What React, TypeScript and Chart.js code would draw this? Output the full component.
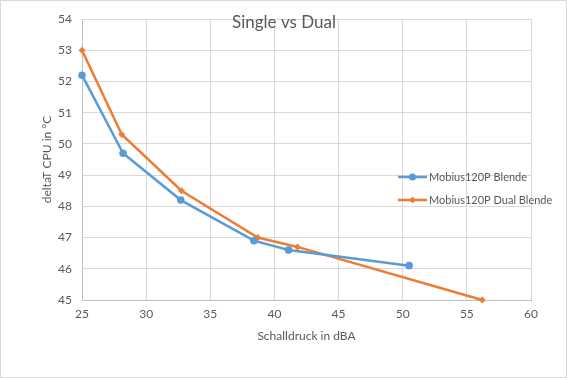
import React, { useEffect, useRef } from "react";
import { Chart, registerables } from "chart.js";

Chart.register(...registerables);

const chartTitle = "Single vs Dual";
const xAxisTitle = "Schalldruck in dBA";
const yAxisTitle = "deltaT CPU in °C";

const singleLabel = "Mobius120P Blende";
const singleX = [25, 28.2, 32.7, 38.4, 41.1, 50.5];
const singleY = [52.2, 49.7, 48.2, 46.9, 46.6, 46.1];

const dualLabel = "Mobius120P Dual Blende";
const dualX = [25, 28.1, 32.75, 38.7, 41.8, 56.2];
const dualY = [53.0, 50.3, 48.5, 47.0, 46.7, 45.0];

const xMin = 25, xMax = 60, xStep = 5;
const yMin = 45, yMax = 54, yStep = 1;

const BLUE = "#5B9BD5";
const ORANGE = "#ED7D31";
const TEXT = "#595959";
const FONT = "Lato, 'Open Sans', sans-serif";

const decorPlugin = {
  id: "decor",
  beforeDraw(chart: any) {
    const { ctx, width, height } = chart;
    ctx.save();
    ctx.fillStyle = "#ffffff";
    ctx.fillRect(0, 0, width, height);
    ctx.restore();
  },
  afterDraw(chart: any) {
    const { ctx, width, height } = chart;
    ctx.save();
    ctx.strokeStyle = "#d9d9d9";
    ctx.lineWidth = 1;
    ctx.strokeRect(0.5, 0.5, width - 1, height - 1);
    // title
    ctx.fillStyle = TEXT;
    ctx.font = `17px ${FONT}`;
    ctx.textAlign = "center";
    ctx.textBaseline = "middle";
    ctx.fillText(chartTitle, 284, 23);
    // legend
    const entries = [
      { label: chart.data.datasets[0].label, color: BLUE, style: "circle", y: 177 },
      { label: chart.data.datasets[1].label, color: ORANGE, style: "diamond", y: 200 },
    ];
    for (const e of entries) {
      ctx.strokeStyle = e.color;
      ctx.fillStyle = e.color;
      ctx.lineWidth = 2.5;
      ctx.beginPath();
      ctx.moveTo(398, e.y);
      ctx.lineTo(427, e.y);
      ctx.stroke();
      ctx.beginPath();
      if (e.style === "circle") {
        ctx.arc(412.5, e.y, 3.5, 0, Math.PI * 2);
      } else {
        ctx.moveTo(412.5, e.y - 3.5);
        ctx.lineTo(416, e.y);
        ctx.lineTo(412.5, e.y + 3.5);
        ctx.lineTo(409, e.y);
        ctx.closePath();
      }
      ctx.fill();
      ctx.fillStyle = TEXT;
      ctx.font = `11px ${FONT}`;
      ctx.textAlign = "left";
      ctx.textBaseline = "middle";
      ctx.fillText(e.label, 429, e.y);
    }
    ctx.restore();
  },
};

export default function App() {
  const ref = useRef<HTMLCanvasElement>(null);
  useEffect(() => {
    if (!ref.current) return;
    const chart = new Chart(ref.current, {
      type: "scatter",
      data: {
        datasets: [
          {
            label: singleLabel,
            data: singleX.map((x, i) => ({ x, y: singleY[i] })),
            showLine: true,
            clip: false,
            borderColor: BLUE,
            backgroundColor: BLUE,
            borderWidth: 2.5,
            pointRadius: 3.8,
            pointStyle: "circle",
            pointBorderWidth: 0,
            tension: 0,
          },
          {
            label: dualLabel,
            data: dualX.map((x, i) => ({ x, y: dualY[i] })),
            showLine: true,
            clip: false,
            borderColor: ORANGE,
            backgroundColor: ORANGE,
            borderWidth: 2.5,
            pointRadius: 3.5,
            pointStyle: "rectRot",
            pointBorderWidth: 0,
            tension: 0,
          },
        ],
      },
      options: {
        responsive: false,
        animation: false,
        layout: { padding: { left: 0, top: 19, right: 36, bottom: 0 } },
        plugins: {
          legend: { display: false },
          title: { display: false },
          tooltip: { enabled: false },
        },
        scales: {
          x: {
            type: "linear",
            min: xMin,
            max: xMax,
            ticks: {
              stepSize: xStep,
              color: TEXT,
              font: { family: FONT, size: 12 },
              padding: 7,
            },
            grid: { color: "#d9d9d9", drawTicks: false },
            border: { color: "#bfbfbf" },
            title: {
              display: true,
              text: xAxisTitle,
              color: TEXT,
              font: { family: FONT, size: 12 },
              padding: { top: 0, bottom: 35 },
            },
            afterFit(scale: any) {
              scale.height = 78;
            },
          },
          y: {
            type: "linear",
            min: yMin,
            max: yMax,
            ticks: {
              stepSize: yStep,
              color: TEXT,
              font: { family: FONT, size: 12 },
              padding: 10,
            },
            grid: { color: "#d9d9d9", drawTicks: false },
            border: { color: "#bfbfbf" },
            title: {
              display: true,
              text: yAxisTitle,
              color: TEXT,
              font: { family: FONT, size: 12 },
              padding: { top: 40, bottom: 0 },
            },
            afterFit(scale: any) {
              scale.width = 82;
            },
          },
        },
      },
      plugins: [decorPlugin],
    } as any);
    return () => chart.destroy();
  }, []);
  return (
    <div style={{ position: "fixed", left: 0, top: 0, width: 567, height: 378 }}>
      <canvas ref={ref} width={567} height={378} />
    </div>
  );
}
